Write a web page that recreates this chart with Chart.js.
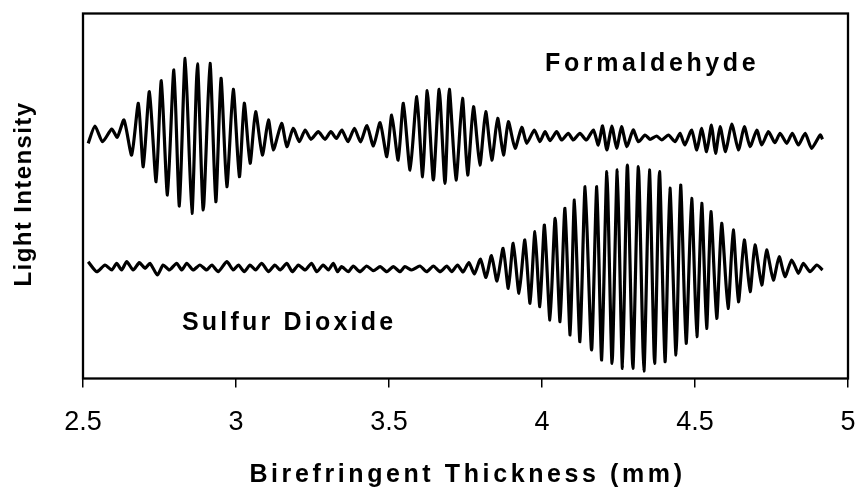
<!DOCTYPE html>
<html lang="en">
<head>
<meta charset="UTF-8">
<title>Light Intensity vs Birefringent Thickness</title>
<script src="https://cdn.jsdelivr.net/npm/chart.js"></script>
<style>
  html, body { margin: 0; padding: 0; background: #fff; }
  canvas { display: block; }
</style>
</head>
<body>
<canvas id="myChart" width="858" height="488"></canvas>
<script>
// thickness in mm; intensity in arbitrary units (0 = bottom of frame, 365 = top)
const formaldehydeX = [2.517, 2.539, 2.564, 2.594, 2.612, 2.634, 2.659, 2.681, 2.697, 2.717,
    2.739, 2.756, 2.776, 2.797, 2.815, 2.834, 2.856, 2.874, 2.893, 2.915,
    2.934, 2.951, 2.970, 2.991, 3.011, 3.027, 3.046, 3.064, 3.086, 3.106,
    3.122, 3.149, 3.166, 3.187, 3.207, 3.226, 3.245, 3.269, 3.291, 3.310,
    3.328, 3.346, 3.366, 3.387, 3.407, 3.428, 3.449, 3.471, 3.493, 3.509,
    3.530, 3.547, 3.569, 3.591, 3.610, 3.625, 3.645, 3.664, 3.683, 3.697,
    3.719, 3.740, 3.757, 3.776, 3.797, 3.816, 3.836, 3.855, 3.874, 3.890,
    3.912, 3.934, 3.950, 3.975, 3.993, 4.010, 4.026, 4.048, 4.064, 4.086,
    4.102, 4.124, 4.145, 4.168, 4.184, 4.198, 4.212, 4.228, 4.244, 4.260,
    4.277, 4.298, 4.315, 4.337, 4.353, 4.375, 4.391, 4.413, 4.435, 4.451,
    4.467, 4.489, 4.506, 4.522, 4.538, 4.554, 4.567, 4.582, 4.600, 4.620,
    4.642, 4.661, 4.680, 4.702, 4.718, 4.740, 4.761, 4.778, 4.800, 4.818,
    4.838, 4.860, 4.881, 4.909, 4.917];
const formaldehydeY = [235.2, 252.5, 236.8, 249.5, 241.2, 258.5, 223.5, 275.2, 211.8, 286.8,
    196.8, 297.8, 183.5, 308.5, 172.5, 320.2, 165.2, 314.5, 168.5, 315.2,
    176.8, 300.2, 191.8, 289.2, 201.8, 275.2, 215.2, 266.8, 223.5, 258.5,
    228.5, 255.2, 231.8, 250.2, 236.8, 248.5, 239.2, 246.8, 239.2, 246.8,
    240.0, 248.5, 236.8, 250.2, 236.5, 253.0, 232.5, 255.8, 221.8, 263.5,
    218.5, 275.2, 208.5, 281.8, 201.8, 287.8, 198.5, 289.2, 195.2, 289.2,
    198.5, 280.2, 203.5, 271.8, 213.5, 266.8, 218.5, 260.2, 223.5, 256.8,
    230.2, 251.2, 235.2, 248.5, 236.8, 246.8, 237.8, 246.8, 238.5, 245.2,
    238.5, 245.2, 238.5, 248.5, 233.5, 252.5, 228.5, 252.5, 230.2, 251.8,
    231.8, 248.5, 236.8, 243.5, 239.2, 242.5, 238.5, 243.5, 236.8, 245.2,
    233.5, 248.5, 228.5, 250.2, 226.8, 253.5, 225.2, 251.8, 226.8, 254.5,
    228.5, 251.8, 231.8, 248.5, 233.5, 246.8, 235.8, 245.2, 235.2, 245.2,
    233.5, 245.2, 230.2, 243.5, 239.2];

const sulfurX = [2.517, 2.545, 2.572, 2.594, 2.610, 2.626, 2.643, 2.664, 2.684, 2.703,
    2.719, 2.743, 2.762, 2.782, 2.806, 2.823, 2.839, 2.860, 2.882, 2.904,
    2.921, 2.942, 2.970, 2.991, 3.008, 3.027, 3.046, 3.064, 3.084, 3.106,
    3.127, 3.144, 3.166, 3.184, 3.204, 3.226, 3.247, 3.264, 3.285, 3.302,
    3.318, 3.332, 3.345, 3.367, 3.383, 3.405, 3.427, 3.449, 3.471, 3.493,
    3.514, 3.536, 3.552, 3.574, 3.601, 3.623, 3.645, 3.667, 3.689, 3.705,
    3.724, 3.742, 3.761, 3.779, 3.799, 3.817, 3.835, 3.853, 3.873, 3.890,
    3.906, 3.925, 3.944, 3.961, 3.977, 3.993, 4.008, 4.026, 4.043, 4.059,
    4.075, 4.092, 4.106, 4.124, 4.141, 4.162, 4.179, 4.195, 4.212, 4.229,
    4.246, 4.263, 4.279, 4.297, 4.315, 4.333, 4.351, 4.368, 4.384, 4.402,
    4.418, 4.438, 4.453, 4.471, 4.489, 4.506, 4.522, 4.538, 4.552, 4.571,
    4.587, 4.608, 4.625, 4.642, 4.661, 4.680, 4.696, 4.718, 4.734, 4.756,
    4.775, 4.794, 4.816, 4.838, 4.854, 4.876, 4.898, 4.917];
const sulfurY = [116.8, 106.8, 113.5, 108.5, 115.2, 108.5, 116.8, 108.5, 115.8, 110.2,
    115.2, 103.5, 113.5, 108.5, 115.2, 108.5, 115.2, 108.5, 113.5, 108.5,
    113.5, 106.8, 116.8, 108.5, 113.5, 106.8, 113.5, 108.5, 115.2, 106.8,
    113.5, 108.5, 115.2, 106.8, 113.5, 108.5, 115.2, 106.8, 113.5, 108.5,
    115.2, 106.8, 111.8, 106.8, 112.5, 106.8, 112.5, 107.8, 111.8, 106.8,
    111.8, 106.8, 111.8, 108.5, 112.5, 106.8, 112.5, 106.8, 112.5, 106.8,
    113.5, 106.5, 116.0, 104.5, 119.5, 101.0, 123.0, 97.5, 130.2, 90.2,
    135.2, 85.2, 138.5, 75.2, 146.8, 71.8, 153.5, 58.5, 160.2, 56.8,
    170.2, 43.5, 178.5, 36.8, 191.8, 28.5, 191.8, 18.5, 206.8, 15.2,
    208.5, 10.2, 213.5, 10.2, 211.8, 7.5, 208.5, 15.2, 206.8, 16.8,
    190.5, 23.5, 193.5, 35.2, 180.2, 41.8, 175.2, 50.2, 166.8, 60.2,
    155.2, 70.2, 148.5, 76.8, 138.5, 86.8, 133.5, 93.5, 128.5, 98.5,
    121.8, 101.8, 118.5, 105.2, 115.2, 106.8, 113.5, 108.5];

const xTicks = [2.5, 3, 3.5, 4, 4.5, 5];
const xTickLabels = ['2.5', '3', '3.5', '4', '4.5', '5'];
const seriesNames = ['Formaldehyde', 'Sulfur Dioxide'];
const xTitle = 'Birefringent Thickness (mm)';
const yTitle = 'Light Intensity';

const FONT = '"Liberation Sans", Arial, Helvetica, sans-serif';

function toPoints(xs, ys) {
    return xs.map((x, i) => ({ x: x, y: ys[i] }));
}

// frame, axis titles and the two trace labels
const framePlugin = {
    id: 'framePlugin',
    afterDraw(chart) {
        const ctx = chart.ctx;
        const a = chart.chartArea;
        const sx = chart.scales.x;
        const sy = chart.scales.y;
        ctx.save();
        ctx.strokeStyle = '#000';
        ctx.lineWidth = 2.3;
        ctx.strokeRect(a.left, a.top, a.right - a.left, a.bottom - a.top);

        ctx.fillStyle = '#000';
        ctx.textBaseline = 'alphabetic';
        ctx.font = 'bold 25px ' + FONT;

        // trace labels
        ctx.textAlign = 'left';
        ctx.letterSpacing = '3.6px';
        ctx.fillText(seriesNames[0], sx.getPixelForValue(4.01), sy.getPixelForValue(307.5));
        ctx.letterSpacing = '3.2px';
        ctx.fillText(seriesNames[1], sx.getPixelForValue(2.8235), sy.getPixelForValue(48.5));

        // x title
        ctx.textAlign = 'center';
        ctx.letterSpacing = '3.6px';
        ctx.fillText(xTitle, (a.left + a.right) / 2 + 2, 482);

        // y title
        ctx.font = 'bold 24px ' + FONT;
        ctx.letterSpacing = '1.4px';
        ctx.translate(31, 194);
        ctx.rotate(-Math.PI / 2);
        ctx.fillText(yTitle, 0, 0);
        ctx.restore();
    }
};

const ctx = document.getElementById('myChart').getContext('2d');
new Chart(ctx, {
    type: 'line',
    data: {
        datasets: [{
            label: seriesNames[0],
            data: toPoints(formaldehydeX, formaldehydeY),
            borderColor: '#000',
            borderWidth: 3.2,
            pointRadius: 0,
            tension: 0.2,
            fill: false
        }, {
            label: seriesNames[1],
            data: toPoints(sulfurX, sulfurY),
            borderColor: '#000',
            borderWidth: 3.2,
            pointRadius: 0,
            tension: 0.2,
            fill: false
        }]
    },
    options: {
        responsive: false,
        animation: false,
        layout: { padding: { left: 83, top: 13.5, right: 10, bottom: 0 } },
        plugins: {
            legend: { display: false },
            tooltip: { enabled: false },
            title: { display: false }
        },
        scales: {
            x: {
                type: 'linear',
                min: 2.5,
                max: 5,
                afterBuildTicks: s => { s.ticks = xTicks.map(v => ({ value: v })); },
                afterFit: s => {
                    s.height = 109.5;
                    s.paddingLeft = 0;
                    s.paddingRight = 0;
                },
                grid: {
                    display: true,
                    drawOnChartArea: false,
                    drawTicks: true,
                    tickLength: 9,
                    color: '#000',
                    lineWidth: 1.5
                },
                border: { display: false },
                ticks: {
                    color: '#000',
                    font: { family: FONT, size: 27 },
                    padding: 19,
                    maxRotation: 0,
                    autoSkip: false,
                    callback: (v, i) => xTickLabels[i]
                }
            },
            y: {
                display: false,
                min: 0,
                max: 365
            }
        }
    },
    plugins: [framePlugin]
});
</script>
</body>
</html>
